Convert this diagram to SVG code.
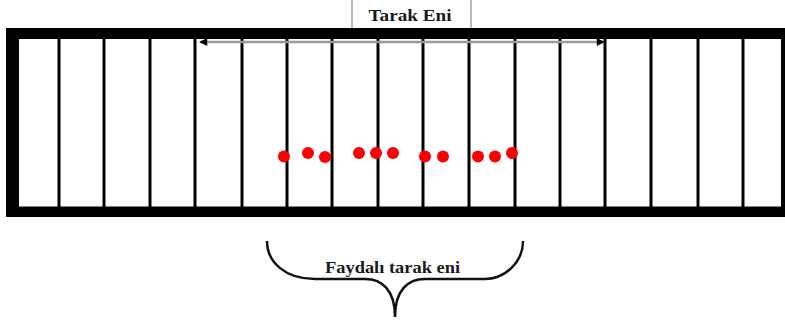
<svg xmlns="http://www.w3.org/2000/svg" width="785" height="320" viewBox="0 0 785 320">
  <style>
    .lbl { font-family: "Liberation Serif", "Times New Roman", serif; font-weight: bold; fill: #1a1a1a; }
    .dent { stroke: #000; stroke-width: 3; }
    .dot { fill: #ff0000; }
  </style>
  <defs>
    <marker id="head" viewBox="0 0 10 10" refX="9" refY="5" markerWidth="9" markerHeight="8" markerUnits="userSpaceOnUse" orient="auto-start-reverse">
      <path d="M0,0 L10,5 L0,10 Z" fill="#000"/>
    </marker>
  </defs>
  <rect width="785" height="320" fill="#fff"/>

  <!-- label box on top of the reed -->
  <g id="tarak-eni">
    <rect x="352" y="-2" width="119" height="31" fill="#fff" stroke="#777" stroke-width="1"/>
    <text class="lbl" x="410" y="21" font-size="17" text-anchor="middle" textLength="83" lengthAdjust="spacingAndGlyphs">Tarak Eni</text>
  </g>

  <!-- reed frame with dents -->
  <g id="reed">
    <rect x="6" y="28" width="800" height="189" fill="#000"/>
    <rect x="19" y="39" width="762" height="167.5" fill="#fff"/>
    <g class="dent">
      <line x1="59" y1="39" x2="59" y2="207"/>
      <line x1="104" y1="39" x2="104" y2="207"/>
      <line x1="150" y1="39" x2="150" y2="207"/>
      <line x1="195" y1="39" x2="195" y2="207"/>
      <line x1="242" y1="39" x2="242" y2="207"/>
      <line x1="287" y1="39" x2="287" y2="207"/>
      <line x1="332" y1="39" x2="332" y2="207"/>
      <line x1="378" y1="39" x2="378" y2="207"/>
      <line x1="423" y1="39" x2="423" y2="207"/>
      <line x1="469" y1="39" x2="469" y2="207"/>
      <line x1="515" y1="39" x2="515" y2="207"/>
      <line x1="560" y1="39" x2="560" y2="207"/>
      <line x1="605" y1="39" x2="605" y2="207"/>
      <line x1="651" y1="39" x2="651" y2="207"/>
      <line x1="698" y1="39" x2="698" y2="207"/>
      <line x1="743" y1="39" x2="743" y2="207"/>
    </g>
  </g>

  <!-- yarn ends -->
  <g id="yarns">
    <circle class="dot" cx="284" cy="156.5" r="6"/>
    <circle class="dot" cx="308" cy="153" r="6"/>
    <circle class="dot" cx="325" cy="157" r="6"/>
    <circle class="dot" cx="359" cy="153" r="6"/>
    <circle class="dot" cx="376" cy="153" r="6"/>
    <circle class="dot" cx="393" cy="153" r="6"/>
    <circle class="dot" cx="425" cy="156.5" r="6"/>
    <circle class="dot" cx="443" cy="156.5" r="6"/>
    <circle class="dot" cx="478" cy="156.5" r="6"/>
    <circle class="dot" cx="495" cy="156.5" r="6"/>
    <circle class="dot" cx="512" cy="153" r="6"/>
  </g>

  <!-- connectors: width arrow and brace -->
  <g id="connectors">
    <line x1="200" y1="42" x2="604" y2="42" stroke="#9a9a9a" stroke-width="2.5" marker-start="url(#head)" marker-end="url(#head)"/>
    <path d="M267,241 C267,262 285,279 315,279 L365,279 C382,279 395,290 395,317 C395,290 408,279 425,279 L485,279 C505,279 523,262 523,241" fill="none" stroke="#111" stroke-width="2.5"/>
  </g>

  <g id="faydali">
    <text class="lbl" x="392.5" y="273" font-size="16" text-anchor="middle" textLength="135" lengthAdjust="spacingAndGlyphs">Faydalı tarak eni</text>
  </g>
</svg>
